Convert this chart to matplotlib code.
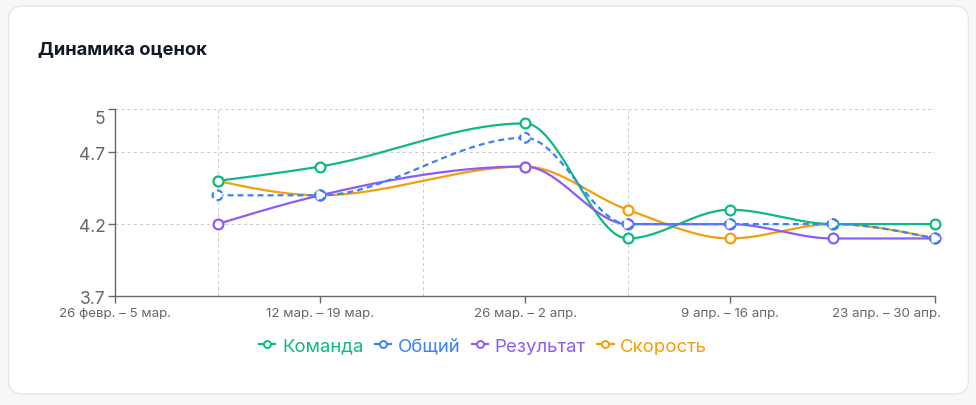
import numpy as np
import matplotlib
matplotlib.use("Agg")
import matplotlib.pyplot as plt
import matplotlib.transforms as mtransforms
from matplotlib.patches import FancyBboxPatch
from matplotlib.lines import Line2D

plt.rcParams['font.family'] = ['Inter', 'DejaVu Sans']
plt.rcParams['lines.scale_dashes'] = False

# weekly periods (index 3 has no data for any series)
weeks = ['26 февр. – 5 мар.', '5 мар. – 12 мар.', '12 мар. – 19 мар.', '19 мар. – 26 мар.',
         '26 мар. – 2 апр.', '2 апр. – 9 апр.', '9 апр. – 16 апр.', '16 апр. – 23 апр.',
         '23 апр. – 30 апр.']
komanda   = [None, 4.5, 4.6, None, 4.9, 4.1, 4.3, 4.2, 4.2]
obshchiy  = [None, 4.4, 4.4, None, 4.8, 4.2, 4.2, 4.2, 4.1]
rezultat  = [None, 4.2, 4.4, None, 4.6, 4.2, 4.2, 4.1, 4.1]
skorost   = [None, 4.5, 4.4, None, 4.6, 4.3, 4.1, 4.2, 4.1]
y_ticks = [3.7, 4.2, 4.7, 5]

series = [
    ('Команда', komanda, '#10b981', '-', 3),
    ('Общий', obshchiy, '#3b82f6', '--', 6),
    ('Результат', rezultat, '#8b5cf6', '-', 5),
    ('Скорость', skorost, '#f59e0b', '-', 2),
]


def monotone_x(xs, ys, n=40):
    """d3 curveMonotoneX style interpolation."""
    xs = np.asarray(xs, float)
    ys = np.asarray(ys, float)
    m = len(xs)
    t = np.zeros(m)
    s = np.diff(ys) / np.diff(xs)
    h = np.diff(xs)
    for i in range(1, m - 1):
        s0, s1 = s[i - 1], s[i]
        p = (s0 * h[i] + s1 * h[i - 1]) / (h[i - 1] + h[i])
        t[i] = (np.sign(s0) + np.sign(s1)) * min(abs(s0), abs(s1), 0.5 * abs(p))
    if m > 2:
        t[0] = (3 * s[0] - t[1]) / 2
        t[-1] = (3 * s[-1] - t[-2]) / 2
    else:
        t[:] = s[0]
    px, py = [], []
    for i in range(m - 1):
        dx = (xs[i + 1] - xs[i]) / 3
        P = np.array([[xs[i], ys[i]],
                      [xs[i] + dx, ys[i] + dx * t[i]],
                      [xs[i + 1] - dx, ys[i + 1] - dx * t[i + 1]],
                      [xs[i + 1], ys[i + 1]]])
        u = np.linspace(0, 1, n)[:, None]
        B = ((1 - u) ** 3) * P[0] + 3 * ((1 - u) ** 2) * u * P[1] + 3 * (1 - u) * u ** 2 * P[2] + u ** 3 * P[3]
        px.extend(B[:, 0])
        py.extend(B[:, 1])
    return np.array(px), np.array(py)


fig = plt.figure(figsize=(9.76, 4.06), dpi=100)
fig.patch.set_facecolor('#f6f7f9')

W, H = 976, 406
card = FancyBboxPatch((8.5 / W, 11 / H), 960 / W, 388 / H,
                      boxstyle="round,pad=0,rounding_size=0.015",
                      transform=fig.transFigure, facecolor='white',
                      edgecolor='#e3e6ea', linewidth=1.0, zorder=-5,
                      mutation_aspect=W / H)
fig.patches.append(card)

fig.text(38 / W, 1 - 50 / H, 'Динамика оценок', fontsize=13.2, fontweight='bold',
         color='#111827', va='center', ha='left')

ax = fig.add_axes([115 / W, 1 - 297 / H, 820 / W, 187 / H])
ax.set_zorder(2)
ax.set_facecolor('none')
ax.set_xlim(0, len(weeks) - 1)
ax.set_ylim(y_ticks[0], y_ticks[-1])

# grid
grid_kw = dict(color='#cccccc', lw=0.75, dashes=(2.2, 2.2), zorder=1)
for yv in y_ticks[1:]:
    ax.axhline(yv, **grid_kw)
for xi in [1, 3, 5, 8]:
    ax.axvline(xi, **grid_kw)

idx = np.arange(len(weeks))
for name, vals, color, ls, z in series:
    xs = [i for i, v in zip(idx, vals) if v is not None]
    ys = [v for v in vals if v is not None]
    cx, cy = monotone_x(xs, ys)
    if ls == '--':
        ax.plot(cx, cy, color=color, lw=1.6, dashes=(4.3, 2.9), zorder=z,
                solid_capstyle='butt')
        ax.scatter(xs, ys, s=50, facecolors='white', edgecolors=color, linewidths=1.6,
                   linestyles=[(0, (4.3, 2.9))], zorder=z + 0.5, clip_on=False)
    else:
        ax.plot(cx, cy, color=color, lw=1.6, zorder=z)
        ax.scatter(xs, ys, s=50, facecolors='white', edgecolors=color, linewidths=1.6,
                   zorder=z + 0.5, clip_on=False)

for sp in ['top', 'right']:
    ax.spines[sp].set_visible(False)
for sp in ['left', 'bottom']:
    ax.spines[sp].set_color('#666666')
    ax.spines[sp].set_linewidth(1.0)

ax.set_yticks(y_ticks)
ax.set_yticklabels([f'{v:g}' for v in y_ticks])
ax.set_xticks(idx[::2])
ax.set_xticklabels(weeks[::2])
ax.tick_params(axis='y', length=5, width=1, color='#666666', labelcolor='#666666',
               labelsize=12.5, pad=2)
ax.tick_params(axis='x', length=5, width=1, color='#666666', labelcolor='#666666',
               labelsize=9.6, pad=3)

# keep the edge labels inside, like the original
top_lbl = ax.get_yticklabels()[-1]
top_lbl.set_transform(top_lbl.get_transform() +
                      mtransforms.ScaledTranslation(0, -7 / 100, fig.dpi_scale_trans))
last_lbl = ax.get_xticklabels()[-1]
last_lbl.set_horizontalalignment('right')
last_lbl.set_transform(last_lbl.get_transform() +
                       mtransforms.ScaledTranslation(6 / 100, 0, fig.dpi_scale_trans))

handles = [Line2D([0], [0], color=c, lw=1.6, marker='o', markersize=5,
                  markerfacecolor='white', markeredgecolor=c, markeredgewidth=1.4)
           for _, _, c, _, _ in series]
leg = fig.legend(handles, [s[0] for s in series], loc='center',
                 bbox_to_anchor=(483 / W, 1 - 347 / H), ncol=4, frameon=False,
                 fontsize=13.4, handlelength=0.9, handletextpad=0.35, columnspacing=0.6,
                 borderpad=0)
for txt, s in zip(leg.get_texts(), series):
    txt.set_color(s[2])

fig.savefig('out.png', dpi=100, facecolor=fig.get_facecolor())
